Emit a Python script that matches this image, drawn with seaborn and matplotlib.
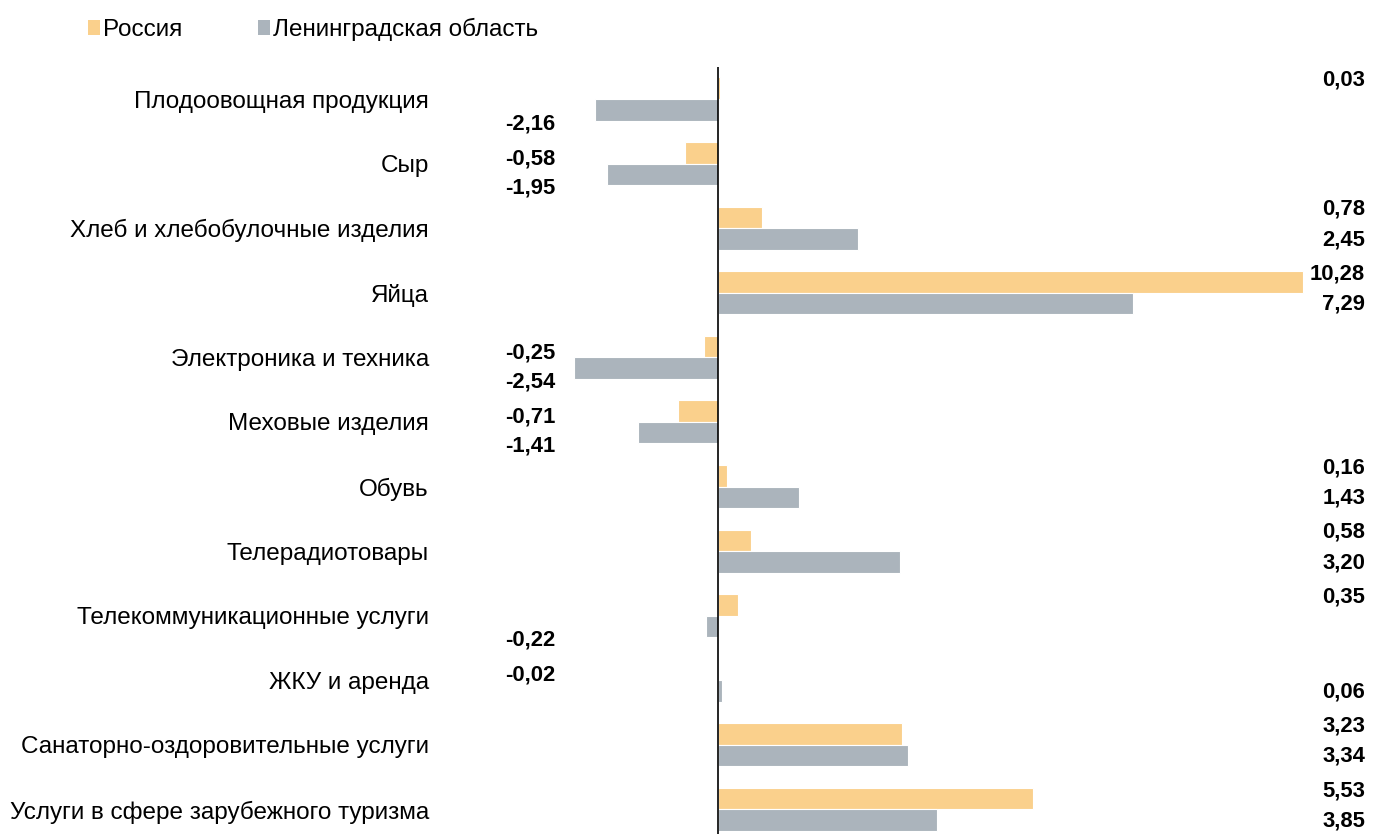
import pandas as pd
import seaborn as sns
import matplotlib.pyplot as plt
from matplotlib.patches import Patch

categories = [
    "Плодоовощная продукция",
    "Сыр",
    "Хлеб и хлебобулочные изделия",
    "Яйца",
    "Электроника и техника",
    "Меховые изделия",
    "Обувь",
    "Телерадиотовары",
    "Телекоммуникационные услуги",
    "ЖКУ и аренда",
    "Санаторно-оздоровительные услуги",
    "Услуги в сфере зарубежного туризма",
]
russia = [0.03, -0.58, 0.78, 10.28, -0.25, -0.71, 0.16, 0.58, 0.35, -0.02, 3.23, 5.53]
leningrad = [-2.16, -1.95, 2.45, 7.29, -2.54, -1.41, 1.43, 3.20, -0.22, 0.06, 3.34, 3.85]
series = ["Россия", "Ленинградская область"]
colors = ["#FAD08C", "#ABB4BC"]

df = pd.DataFrame({
    "Категория": categories * 2,
    "Значение": russia + leningrad,
    "Ряд": [series[0]] * len(categories) + [series[1]] * len(categories),
})

sns.set_style("white")
plt.rcParams["font.family"] = ["Liberation Sans", "DejaVu Sans"]
plt.rcParams["text.color"] = "black"
plt.rcParams["ytick.color"] = "black"

fig = plt.figure(figsize=(13.81, 8.34), dpi=100)
ax = fig.add_axes([440 / 1381, 0.0, 870 / 1381, 767 / 834])

sns.barplot(
    data=df, x="Значение", y="Категория", hue="Ряд",
    orient="h", palette=colors, saturation=1, width=0.667, ax=ax,
    edgecolor="white", linewidth=0.8, legend=False,
)

ax.set_xlim(-4.886, 10.40)
ax.set_ylim(11.38, -0.496)
ax.axvline(0, color="black", linewidth=1.2)
for s in ax.spines.values():
    s.set_visible(False)
ax.set_xticks([])
ax.set_xlabel("")
ax.set_ylabel("")
ax.tick_params(axis="y", length=0, pad=8, labelsize=17.5, labelcolor="black")

# value labels: negatives in the left column, positives at the right edge
for i in range(len(categories)):
    for val, up, down in ((russia[i], -0.29, -0.075), (leningrad[i], 0.18, 0.38)):
        y = i + (up if val >= 0 else down)
        x = -2.865 if val < 0 else 11.37
        ax.text(x, y, f"{val:.2f}".replace(".", ","), ha="right", va="center",
                fontsize=15.8, fontweight="bold", clip_on=False)

handles = [Patch(facecolor=c, edgecolor="none") for c in colors]
fig.legend(handles, series, loc="upper left", bbox_to_anchor=(66 / 1381, 1.005),
           ncol=2, frameon=False, fontsize=17.5, handlelength=0.5,
           handleheight=0.6, handletextpad=0.12, columnspacing=3.1)

fig.savefig("out.png", dpi=100)
